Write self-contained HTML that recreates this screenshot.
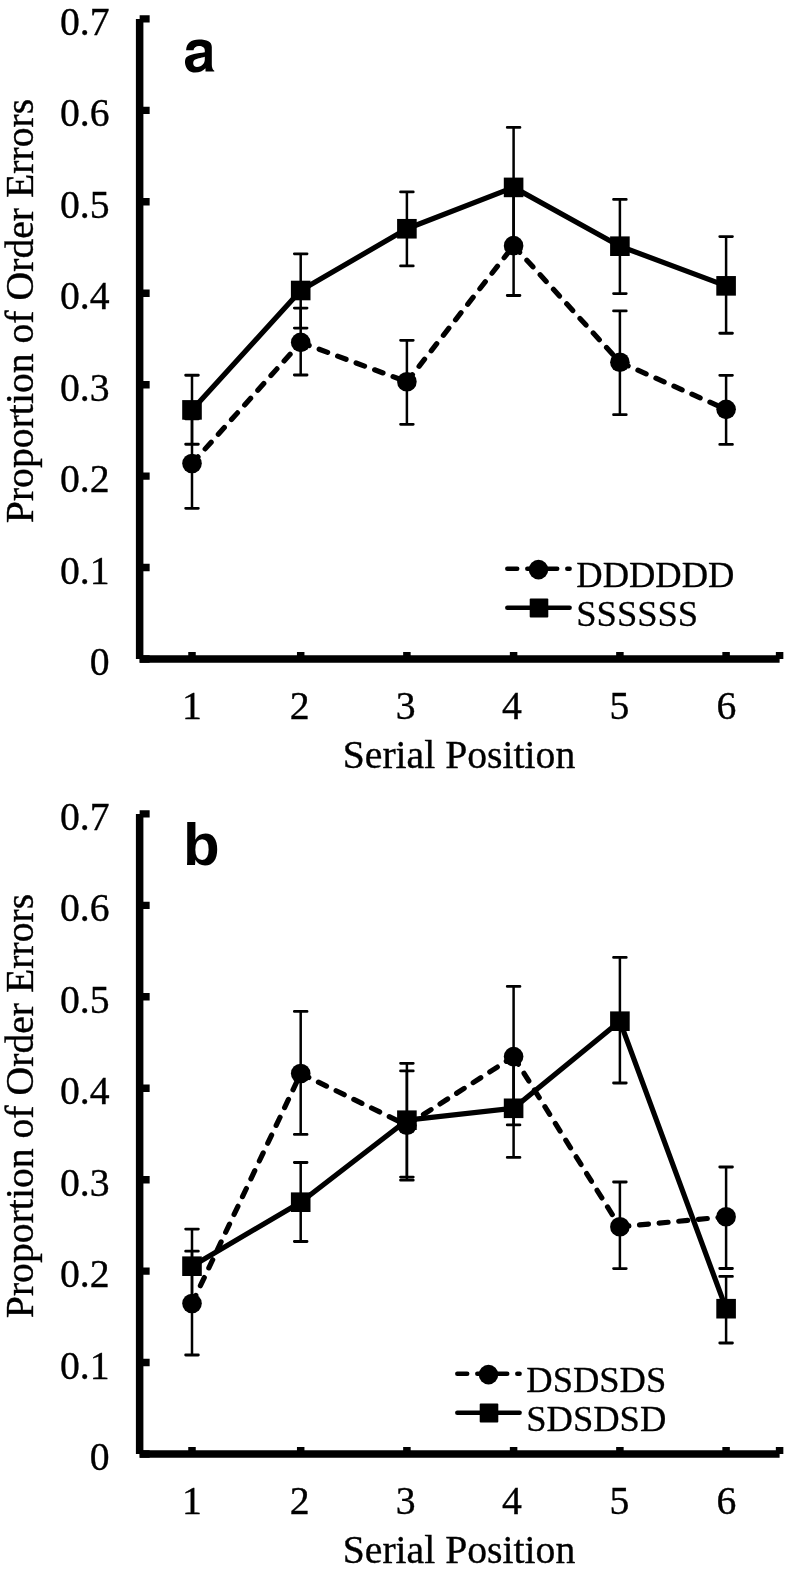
<!DOCTYPE html>
<html><head><meta charset="utf-8"><title>Proportion of Order Errors</title>
<style>
html,body{margin:0;padding:0;background:#fff;}
body{width:785px;height:1575px;overflow:hidden;}
svg{display:block;will-change:transform;}
.t40{font-family:"Liberation Serif",serif;font-size:39.7px;fill:#000;stroke:#000;stroke-width:0.35px;}
.t36{font-family:"Liberation Serif",serif;font-size:36.5px;fill:#000;stroke:#000;stroke-width:0.3px;}
.lt{font-family:"Liberation Sans",sans-serif;font-weight:bold;font-size:60px;fill:#000;}
</style></head>
<body>
<svg width="785" height="1575" viewBox="0 0 785 1575">
<rect width="785" height="1575" fill="#fff"/>
<text class="t40" transform="translate(33,311) rotate(-90)" text-anchor="middle">Proportion of Order Errors</text>
<text class="t40" x="109.5" y="675" text-anchor="end">0</text>
<text class="t40" x="109.5" y="583.56" text-anchor="end">0.1</text>
<text class="t40" x="109.5" y="492.12" text-anchor="end">0.2</text>
<text class="t40" x="109.5" y="400.68" text-anchor="end">0.3</text>
<text class="t40" x="109.5" y="309.24" text-anchor="end">0.4</text>
<text class="t40" x="109.5" y="217.8" text-anchor="end">0.5</text>
<text class="t40" x="109.5" y="126.36" text-anchor="end">0.6</text>
<text class="t40" x="109.5" y="34.92" text-anchor="end">0.7</text>
<text class="t40" x="192" y="718.9" text-anchor="middle">1</text>
<text class="t40" x="299.6" y="718.9" text-anchor="middle">2</text>
<text class="t40" x="405.7" y="718.9" text-anchor="middle">3</text>
<text class="t40" x="512" y="718.9" text-anchor="middle">4</text>
<text class="t40" x="619.3" y="718.9" text-anchor="middle">5</text>
<text class="t40" x="726.4" y="718.9" text-anchor="middle">6</text>
<text class="t40" x="459" y="767.6" text-anchor="middle">Serial Position</text>
<path fill-rule="evenodd" d="M186.1 50.2L193.5 50.2C193.8 47.5 196 45.9 199 45.9C202.5 45.9 204.8 47.5 204.8 50.5L204.8 52.2C198 53.2 189 54.2 186.2 57.5C183.5 61 185 72.6 195 72.6C199.5 72.6 203 71 205.5 68.3L205.5 71.6L214.3 71.6L214.3 70.8C212.5 69.5 211.8 67.5 211.8 64.5L211.8 47C211.8 41.5 207 39.4 199 39.4C191 39.4 186.5 43 186.1 50.2Z M204.8 56.8C201 58 196 58.5 194 60.5C192.5 62.5 193 67 197 67C202 67 204.8 63 204.8 59.5Z"/>
<path d="M139.65 18.92V659" stroke="#000" stroke-width="7.5" fill="none"/>
<path d="M139.65 659H779.6" stroke="#000" stroke-width="7.3" fill="none"/>
<path d="M139.65 659H149.65M139.65 567.56H149.65M139.65 476.12H149.65M139.65 384.68H149.65M139.65 293.24H149.65M139.65 201.8H149.65M139.65 110.36H149.65M139.65 18.92H149.65" stroke="#000" stroke-width="7.4" fill="none"/>
<path d="M192 659V652M300.7 659V652M406.9 659V652M513.6 659V652M619.9 659V652M726.1 659V652M779.6 659V652" stroke="#000" stroke-width="7.5" fill="none"/>
<path d="M192 418.9V508.3M300.7 308.1V375M406.9 340.3V424.3M513.6 195.7V295.5M619.9 310.9V414.7M726.1 375.35V444.45" stroke="#000" stroke-width="2.5" fill="none"/>
<path d="M185.65 418.9H198.35M185.65 508.3H198.35M294.35 308.1H307.05M294.35 375H307.05M400.55 340.3H413.25M400.55 424.3H413.25M507.25 195.7H519.95M507.25 295.5H519.95M613.55 310.9H626.25M613.55 414.7H626.25M719.75 375.35H732.45M719.75 444.45H732.45" stroke="#000" stroke-width="2.8" stroke-linecap="round" fill="none"/>
<path d="M192 375.25V444.25M300.7 253.8V328.1M406.9 191.9V265.9M513.6 127.4V247.4M619.9 199.45V293.55M726.1 236.55V333.25" stroke="#000" stroke-width="2.5" fill="none"/>
<path d="M185.65 375.25H198.35M185.65 444.25H198.35M294.35 253.8H307.05M294.35 328.1H307.05M400.55 191.9H413.25M400.55 265.9H413.25M507.25 127.4H519.95M507.25 247.4H519.95M613.55 199.45H626.25M613.55 293.55H626.25M719.75 236.55H732.45M719.75 333.25H732.45" stroke="#000" stroke-width="2.8" stroke-linecap="round" fill="none"/>
<path d="M192 463.55L300.7 342.4M300.7 342.4L406.9 381.8M406.9 381.8L513.6 245.65M513.6 245.65L619.9 362.2M619.9 362.2L726.1 409.35" stroke="#000" stroke-width="5.2" fill="none" stroke-dasharray="9 10.7" stroke-dashoffset="0" stroke-linecap="round"/>
<polyline points="192,409.9 300.7,290.5 406.9,228.75 513.6,187.4 619.9,246.2 726.1,285.85" stroke="#000" stroke-width="5.2" fill="none" stroke-linejoin="round"/>
<circle cx="192" cy="463.55" r="9.8"/>
<circle cx="300.7" cy="342.4" r="9.8"/>
<circle cx="406.9" cy="381.8" r="9.8"/>
<circle cx="513.6" cy="245.65" r="9.8"/>
<circle cx="619.9" cy="362.2" r="9.8"/>
<circle cx="726.1" cy="409.35" r="9.8"/>
<rect x="182.2" y="400.1" width="19.6" height="19.6"/>
<rect x="290.9" y="280.7" width="19.6" height="19.6"/>
<rect x="397.1" y="218.95" width="19.6" height="19.6"/>
<rect x="503.8" y="177.6" width="19.6" height="19.6"/>
<rect x="610.1" y="236.4" width="19.6" height="19.6"/>
<rect x="716.3" y="276.05" width="19.6" height="19.6"/>
<path d="M507.3 568.8H569.6" stroke="#000" stroke-width="4.5" stroke-dasharray="9.9 10.1" stroke-linecap="round" fill="none"/>
<circle cx="538.5" cy="569.6" r="9.8"/>
<path d="M507.3 607.8H569.6" stroke="#000" stroke-width="4.5" stroke-linecap="round" fill="none"/>
<rect x="529.7" y="598.4" width="18.6" height="19" rx="1"/>
<text class="t36" x="576.3" y="587.2">DDDDDD</text>
<text class="t36" x="576.3" y="626.2">SSSSSS</text>
<text class="t40" transform="translate(33,1106) rotate(-90)" text-anchor="middle">Proportion of Order Errors</text>
<text class="t40" x="109.5" y="1470" text-anchor="end">0</text>
<text class="t40" x="109.5" y="1378.56" text-anchor="end">0.1</text>
<text class="t40" x="109.5" y="1287.12" text-anchor="end">0.2</text>
<text class="t40" x="109.5" y="1195.68" text-anchor="end">0.3</text>
<text class="t40" x="109.5" y="1104.24" text-anchor="end">0.4</text>
<text class="t40" x="109.5" y="1012.8" text-anchor="end">0.5</text>
<text class="t40" x="109.5" y="921.36" text-anchor="end">0.6</text>
<text class="t40" x="109.5" y="829.92" text-anchor="end">0.7</text>
<text class="t40" x="192" y="1513.9" text-anchor="middle">1</text>
<text class="t40" x="299.6" y="1513.9" text-anchor="middle">2</text>
<text class="t40" x="405.7" y="1513.9" text-anchor="middle">3</text>
<text class="t40" x="512" y="1513.9" text-anchor="middle">4</text>
<text class="t40" x="619.3" y="1513.9" text-anchor="middle">5</text>
<text class="t40" x="726.4" y="1513.9" text-anchor="middle">6</text>
<text class="t40" x="459" y="1562.6" text-anchor="middle">Serial Position</text>
<text class="lt" x="183" y="865">b</text>
<path d="M139.65 813.92V1454" stroke="#000" stroke-width="7.5" fill="none"/>
<path d="M139.65 1454H779.6" stroke="#000" stroke-width="7.3" fill="none"/>
<path d="M139.65 1454H149.65M139.65 1362.56H149.65M139.65 1271.12H149.65M139.65 1179.68H149.65M139.65 1088.24H149.65M139.65 996.8H149.65M139.65 905.36H149.65M139.65 813.92H149.65" stroke="#000" stroke-width="7.4" fill="none"/>
<path d="M192 1454V1447M300.7 1454V1447M406.9 1454V1447M513.6 1454V1447M619.9 1454V1447M726.1 1454V1447M779.6 1454V1447" stroke="#000" stroke-width="7.5" fill="none"/>
<path d="M192 1251.2V1355M300.7 1011.4V1134.4M406.9 1070.95V1180.15M513.6 986.4V1124.9M619.9 1182V1268.6M726.1 1167V1268.5" stroke="#000" stroke-width="2.5" fill="none"/>
<path d="M185.65 1251.2H198.35M185.65 1355H198.35M294.35 1011.4H307.05M294.35 1134.4H307.05M400.55 1070.95H413.25M400.55 1180.15H413.25M507.25 986.4H519.95M507.25 1124.9H519.95M613.55 1182H626.25M613.55 1268.6H626.25M719.75 1167H732.45M719.75 1268.5H732.45" stroke="#000" stroke-width="2.8" stroke-linecap="round" fill="none"/>
<path d="M192 1229.1V1303.3M300.7 1162.5V1241.5M406.9 1063.3V1177.1M513.6 1059.2V1157.4M619.9 957.4V1083M726.1 1276.4V1343" stroke="#000" stroke-width="2.5" fill="none"/>
<path d="M185.65 1229.1H198.35M185.65 1303.3H198.35M294.35 1162.5H307.05M294.35 1241.5H307.05M400.55 1063.3H413.25M400.55 1177.1H413.25M507.25 1059.2H519.95M507.25 1157.4H519.95M613.55 957.4H626.25M613.55 1083H626.25M719.75 1276.4H732.45M719.75 1343H732.45" stroke="#000" stroke-width="2.8" stroke-linecap="round" fill="none"/>
<path d="M192 1303.5L300.7 1073.5M300.7 1073.5L406.9 1125.2M406.9 1125.2L513.6 1056.6M513.6 1056.6L619.9 1226.8M619.9 1226.8L726.1 1216.75" stroke="#000" stroke-width="5.2" fill="none" stroke-dasharray="9 10.7" stroke-dashoffset="0" stroke-linecap="round"/>
<polyline points="192,1266.2 300.7,1202.2 406.9,1120.2 513.6,1108.3 619.9,1021.2 726.1,1308.7" stroke="#000" stroke-width="5.2" fill="none" stroke-linejoin="round"/>
<circle cx="192" cy="1303.5" r="9.8"/>
<circle cx="300.7" cy="1073.5" r="9.8"/>
<circle cx="406.9" cy="1125.2" r="9.8"/>
<circle cx="513.6" cy="1056.6" r="9.8"/>
<circle cx="619.9" cy="1226.8" r="9.8"/>
<circle cx="726.1" cy="1216.75" r="9.8"/>
<rect x="182.2" y="1256.4" width="19.6" height="19.6"/>
<rect x="290.9" y="1192.4" width="19.6" height="19.6"/>
<rect x="397.1" y="1110.4" width="19.6" height="19.6"/>
<rect x="503.8" y="1098.5" width="19.6" height="19.6"/>
<rect x="610.1" y="1011.4" width="19.6" height="19.6"/>
<rect x="716.3" y="1298.9" width="19.6" height="19.6"/>
<path d="M457.3 1373.8H519.6" stroke="#000" stroke-width="4.5" stroke-dasharray="9.9 10.1" stroke-linecap="round" fill="none"/>
<circle cx="488.5" cy="1374.6" r="9.8"/>
<path d="M457.3 1412.8H519.6" stroke="#000" stroke-width="4.5" stroke-linecap="round" fill="none"/>
<rect x="479.7" y="1403.4" width="18.6" height="19" rx="1"/>
<text class="t36" x="526.3" y="1392.2">DSDSDS</text>
<text class="t36" x="526.3" y="1431.2">SDSDSD</text>
</svg>
</body></html>
